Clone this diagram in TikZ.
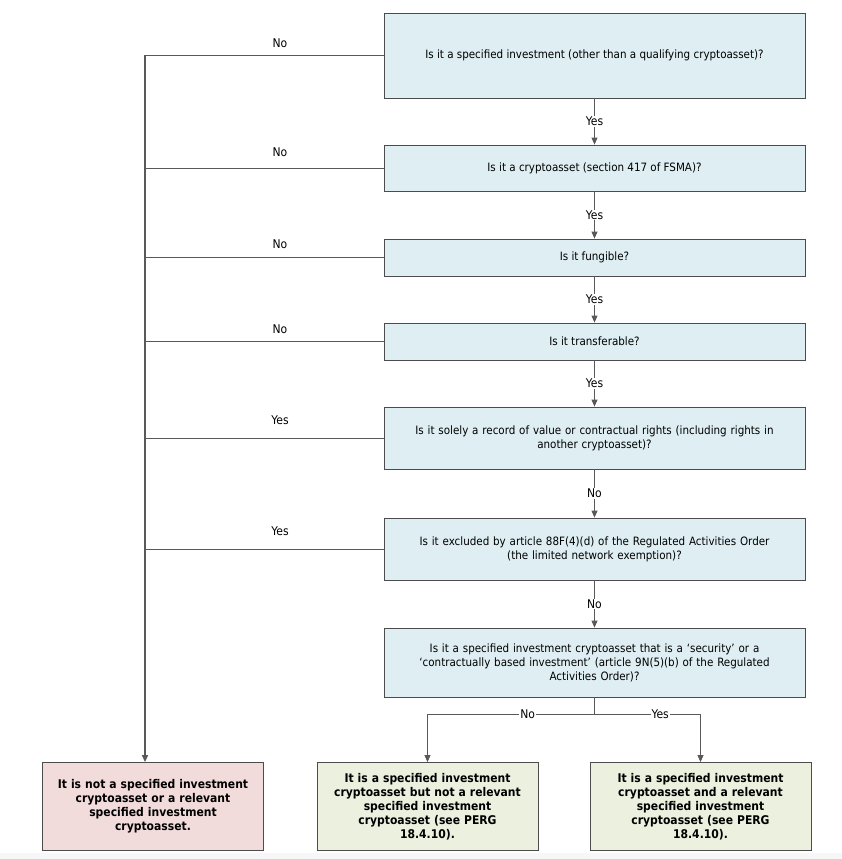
\documentclass[tikz,border=0pt]{standalone}
\usepackage{fontspec}
\setmainfont{DejaVu Sans Condensed}
\usetikzlibrary{arrows.meta}
\definecolor{qblue}{RGB}{222,238,243}
\definecolor{rred}{RGB}{242,220,219}
\definecolor{rgreen}{RGB}{235,241,222}
\begin{document}
\begin{tikzpicture}[x=1pt,y=-1pt,
  q/.style={draw=black!70,fill=qblue,line width=0.8pt,minimum width=421pt,align=center,font=\fontsize{11.5}{14}\selectfont,inner sep=2pt},
  res/.style={draw=black!70,line width=0.8pt,minimum width=221pt,minimum height=88pt,align=center,text width=212pt,font=\bfseries\fontsize{12}{14}\selectfont},
  lab/.style={font=\fontsize{12}{13}\selectfont},
  conn/.style={draw=black!65,line width=0.8pt},
  arr/.style={conn,-{Triangle[length=7pt,width=6pt]}}]
\useasboundingbox (0,0) rectangle (842,859);
\fill[black!3] (0,853) rectangle (842,859);
\node[q,minimum height=85pt] (b1) at (594.5,55.5) {Is it a specified investment (other than a qualifying cryptoasset)?};
\node[q,minimum height=46pt] (b2) at (594.5,168) {Is it a cryptoasset (section 417 of FSMA)?};
\node[q,minimum height=37pt] (b3) at (594.5,257.5) {Is it fungible?};
\node[q,minimum height=37pt] (b4) at (594.5,341.5) {Is it transferable?};
\node[q,minimum height=62pt,text width=417pt] (b5) at (594.5,438) {Is it solely a record of value or contractual rights (including rights in\\another cryptoasset)?};
\node[q,minimum height=62pt,text width=417pt] (b6) at (594.5,549) {Is it excluded by article 88F(4)(d) of the Regulated Activities Order\\(the limited network exemption)?};
\node[q,minimum height=69pt,text width=417pt] (b7) at (594.5,662.5) {Is it a specified investment cryptoasset that is a `security' or a\\`contractually based investment' (article 9N(5)(b) of the Regulated\\Activities Order)?};
\node[res,fill=rred] (r1) at (153,806.5) {It is not a specified investment\\cryptoasset or a relevant\\specified investment\\cryptoasset.};
\node[res,fill=rgreen] (r2) at (427.5,806.5) {It is a specified investment\\cryptoasset but not a relevant\\specified investment\\cryptoasset (see PERG\\18.4.10).};
\node[res,fill=rgreen] (r3) at (700.5,806.5) {It is a specified investment\\cryptoasset and a relevant\\specified investment\\cryptoasset (see PERG\\18.4.10).};
\foreach \a/\b/\t in {b1/b2/Yes,b2/b3/Yes,b3/b4/Yes,b4/b5/Yes,b5/b6/No,b6/b7/No}{
  \draw[arr] (\a.south) -- node[lab,fill=white,inner sep=1pt]{\t} (\b.north);}
\coordinate (top) at (145,55.5);
\draw[conn] (b1.west) -- (top);
\draw[arr,line width=1.1pt] (top) -- (r1.north -| top);
\foreach \n/\t/\yy in {b1/No/43,b2/No/152,b3/No/244,b4/No/329,b5/Yes/420,b6/Yes/531}{
  \draw[conn] (\n.west) -- (\n.west -| top);
  \node[lab] at (280,\yy) {\t};}
\coordinate (m) at (594.5,714);
\draw[conn] (b7.south) -- (m);
\draw[arr] (m) -- node[lab,fill=white,inner sep=1pt,pos=0.4]{No} (m -| r2.north) -- (r2.north);
\draw[arr] (m) -- node[lab,fill=white,inner sep=1pt,pos=0.62]{Yes} (m -| r3.north) -- (r3.north);
\end{tikzpicture}
\end{document}
